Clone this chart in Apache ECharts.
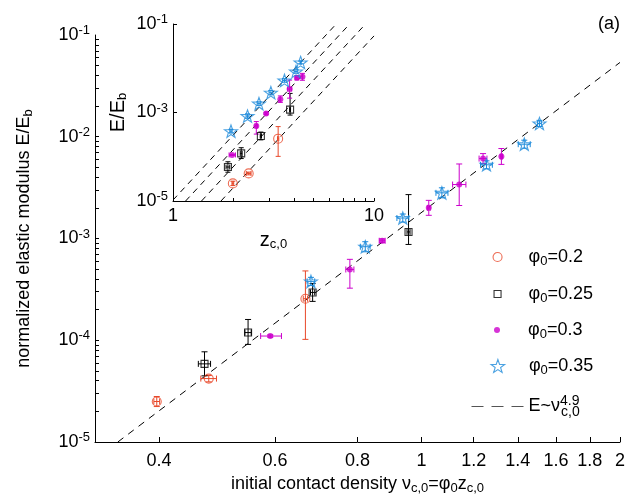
<!DOCTYPE html>
<html>
<head>
<meta charset="utf-8">
<script src="https://cdn.jsdelivr.net/npm/echarts@6/dist/echarts.min.js"></script>
<style>
  html, body { margin: 0; padding: 0; background: #fff; }
  #chart { width: 628px; height: 500px; }
</style>
</head>
<body>
<div id="chart"></div>
<script>
// ---- measured samples: contact density nu, normalized modulus E/Eb, with error ranges ----
const phi = [0.2, 0.25, 0.3, 0.35];

const nu020   = [0.397, 0.476, 0.667];
const E020    = [2.5e-5, 4.2e-5, 2.56e-4];
const nuLo020 = [0.393, 0.463, 0.662];
const nuHi020 = [0.401, 0.489, 0.672];
const ELo020  = [2.23e-5, 3.9e-5, 1.02e-4];
const EHi020  = [2.8e-5, 4.5e-5, 4.8e-4];

const nu025   = [0.469, 0.546, 0.684, 0.956];
const E025    = [5.86e-5, 1.19e-4, 2.95e-4, 1.16e-3];
const nuLo025 = [0.459, 0.540, 0.679, 0.951];
const nuHi025 = [0.479, 0.552, 0.689, 0.961];
const ELo025  = [4.47e-5, 9.1e-5, 2.41e-4, 8.74e-4];
const EHi025  = [7.7e-5, 1.6e-4, 3.61e-4, 2.7e-3];

const nu030   = [0.590, 0.779, 0.872, 1.026, 1.141, 1.24, 1.322];
const E030    = [1.1e-4, 4.96e-4, 9.5e-4, 2.0e-3, 3.39e-3, 6.1e-3, 6.4e-3];
const nuLo030 = [0.5705, 0.768, 0.863, 1.021, 1.115, 1.223, 1.317];
const nuHi030 = [0.6135, 0.790, 0.881, 1.031, 1.168, 1.257, 1.327];
const ELo030  = [1.07e-4, 3.25e-4, 9.1e-4, 1.69e-3, 2.11e-3, 5.45e-3, 5.35e-3];
const EHi030  = [1.13e-4, 6.24e-4, 9.9e-4, 2.37e-3, 5.4e-3, 6.83e-3, 7.66e-3];

const nu035   = [0.680, 0.822, 0.937, 1.074, 1.255, 1.432, 1.51];
const E035    = [3.79e-4, 8.3e-4, 1.59e-3, 2.81e-3, 5.3e-3, 8.45e-3, 1.35e-2];
const nuLo035 = [0.671, 0.808, 0.918, 1.052, 1.229, 1.402, 1.5];
const nuHi035 = [0.689, 0.836, 0.957, 1.097, 1.281, 1.462, 1.52];
const ELo035  = [3.46e-4, 7.4e-4, 1.45e-3, 2.51e-3, 4.84e-3, 7.72e-3, 1.26e-2];
const EHi035  = [4.15e-4, 9.3e-4, 1.74e-3, 3.15e-3, 5.8e-3, 9.25e-3, 1.45e-2];

// power-law fit E = A * nu^4.9
const fitExponent = 4.9;
const fitPrefactor = 1.8e-3;

// tick positions
const xTicksMain = [0.4, 0.6, 0.8, 1, 1.2, 1.4, 1.6, 1.8, 2];
const yTicksMain = [];
[1e-5, 1e-4, 1e-3, 1e-2].forEach(d => { for (let k = 1; k <= 9; k++) yTicksMain.push(d * k); });
yTicksMain.push(1e-1);
const xTicksInset = [1, 2, 3, 4, 5, 6, 7, 8, 9, 10];
const xLabelsInset = [1, 10];
const yTicksInset = [1e-5, 1e-3, 1e-1];

// ---- styling ----
const FONT = '"Liberation Sans", Arial, Helvetica, sans-serif';
const STAR = 'path://M0,-10L2.35,-3.24L9.51,-3.09L3.8,1.24L5.88,8.09L0,4.0L-5.88,8.09L-3.8,1.24L-9.51,-3.09L-2.35,-3.24Z';
const SQUARE = 'path://M0,0L10,0L10,10L0,10Z';

const groups = [
  { key: 'g020', phi: phi[0], nu: nu020, E: E020, nuLo: nuLo020, nuHi: nuHi020, ELo: ELo020, EHi: EHi020,
    color: '#E8482A', symbol: 'circle', size: 9, filled: false, label: 'φ{sub|0}=0.2' },
  { key: 'g025', phi: phi[1], nu: nu025, E: E025, nuLo: nuLo025, nuHi: nuHi025, ELo: ELo025, EHi: EHi025,
    color: '#000000', symbol: SQUARE, size: 7, filled: false, label: 'φ{sub|0}=0.25' },
  { key: 'g030', phi: phi[2], nu: nu030, E: E030, nuLo: nuLo030, nuHi: nuHi030, ELo: ELo030, EHi: EHi030,
    color: '#CC00CC', symbol: 'circle', size: 6, filled: true, label: 'φ{sub|0}=0.3' },
  { key: 'g035', phi: phi[3], nu: nu035, E: E035, nuLo: nuLo035, nuHi: nuHi035, ELo: ELo035, EHi: EHi035,
    color: '#1E8BDB', symbol: STAR, size: 13, filled: false, label: 'φ{sub|0}=0.35' }
];

const subSup = {
  sub: { fontSize: 13, fontFamily: FONT, color: '#000', padding: [9, 0, 0, 0] },
  sup: { fontSize: 13, fontFamily: FONT, color: '#000', padding: [0, 0, 9, 0] },
  supz: { fontSize: 14, fontFamily: FONT, color: '#000', padding: [0, 0, 11, 0], width: 1 },
  subz: { fontSize: 14, fontFamily: FONT, color: '#000', padding: [11, 0, 0, 0] }
};

function errorBars(cap, color) {
  return function (params, api) {
    const x = api.value(0), y = api.value(1);
    const p = api.coord([x, y]);
    const xl = api.coord([api.value(2), y])[0];
    const xh = api.coord([api.value(3), y])[0];
    const yl = api.coord([x, api.value(4)])[1];
    const yh = api.coord([x, api.value(5)])[1];
    const st = { stroke: color, lineWidth: 1, fill: null };
    const seg = (x1, y1, x2, y2) => ({ type: 'line', shape: { x1, y1, x2, y2 }, style: st });
    return {
      type: 'group',
      children: [
        seg(p[0], yl, p[0], yh),
        seg(p[0] - cap, yl, p[0] + cap, yl),
        seg(p[0] - cap, yh, p[0] + cap, yh),
        seg(xl, p[1], xh, p[1]),
        seg(xl, p[1] - cap, xl, p[1] + cap),
        seg(xh, p[1] - cap, xh, p[1] + cap)
      ]
    };
  };
}

function rows(g, scale) {
  return g.nu.map((v, i) => [v / scale, g.E[i], g.nuLo[i] / scale, g.nuHi[i] / scale, g.ELo[i], g.EHi[i]]);
}

function markerStyle(g) {
  return g.filled
    ? { color: g.color, borderWidth: 0 }
    : { color: 'rgba(0,0,0,0)', borderColor: g.color, borderWidth: 1.1 };
}

const series = [];
// main panel
groups.forEach(g => {
  series.push({
    type: 'custom', name: g.key + '_err', xAxisIndex: 0, yAxisIndex: 0, z: 2,
    renderItem: errorBars(3, g.color), data: rows(g, 1), encode: { x: 0, y: 1 }, silent: true
  });
});
groups.forEach(g => {
  series.push({
    type: 'scatter', name: g.key, xAxisIndex: 0, yAxisIndex: 0, z: 3,
    symbol: g.symbol, symbolSize: g.size, symbolKeepAspect: true,
    itemStyle: markerStyle(g), data: g.nu.map((v, i) => [v, g.E[i]])
  });
});
const fitStart = Math.pow(1e-5 / fitPrefactor, 1 / fitExponent);
const fitEnd = 2;
series.push({
  type: 'line', name: 'fit', xAxisIndex: 0, yAxisIndex: 0, z: 1,
  symbol: 'none', lineStyle: { color: '#000', width: 1, type: [7, 6] }, itemStyle: { color: '#000' },
  data: [fitStart, fitEnd].map(v => [v, fitPrefactor * Math.pow(v, fitExponent)])
});

// inset panel: same samples against coordination number z = nu / phi
groups.forEach(g => {
  const logC = Math.log10(fitPrefactor) + fitExponent * Math.log10(g.phi);
  let zLo = Math.pow(10, (-5 - logC) / fitExponent);
  let zHi = Math.pow(10, (-1 - logC) / fitExponent);
  zLo = Math.max(zLo, 1); zHi = Math.min(zHi, 10);
  series.push({
    type: 'line', name: g.key + '_insetfit', xAxisIndex: 1, yAxisIndex: 1, z: 1,
    symbol: 'none', lineStyle: { color: '#000', width: 1, type: [6, 5] },
    data: [zLo, zHi].map(z => [z, Math.pow(10, logC) * Math.pow(z, fitExponent)])
  });
});
groups.forEach(g => {
  series.push({
    type: 'custom', name: g.key + '_inseterr', xAxisIndex: 1, yAxisIndex: 1, z: 2,
    renderItem: errorBars(2.5, g.color), data: rows(g, g.phi), encode: { x: 0, y: 1 }, silent: true
  });
});
groups.forEach(g => {
  series.push({
    type: 'scatter', name: g.key + '_inset', xAxisIndex: 1, yAxisIndex: 1, z: 3,
    symbol: g.symbol, symbolSize: g.size, symbolKeepAspect: true,
    itemStyle: markerStyle(g), data: g.nu.map((v, i) => [v / g.phi, g.E[i]])
  });
});

const expLabel = v => '10{sup|' + Math.round(Math.log10(v)) + '}';
const axisText = { color: '#000', fontFamily: FONT };

// one legend block per row; icon centred at legendIconX, label starting at about legendIconX + 31
const legendIconX = 492;
const legendY = [255, 292, 328, 364, 403];
const legendItemW = 52;
const legends = groups.map((g, i) => ({
  left: legendIconX - g.size / 2, top: legendY[i] - 12, orient: 'horizontal',
  itemWidth: legendItemW, itemHeight: g.size, symbolKeepAspect: true, selectedMode: false,
  data: [{ name: g.key, icon: g.symbol, itemStyle: markerStyle(g) }],
  formatter: () => g.label,
  textStyle: Object.assign({ fontSize: 18, rich: subSup }, axisText)
})).concat([{
  left: legendIconX - legendItemW / 2, top: legendY[4] - 14, orient: 'horizontal',
  itemWidth: legendItemW, itemHeight: 14, selectedMode: false,
  data: [{ name: 'fit', itemStyle: { opacity: 0 }, lineStyle: { type: [12, 8], color: '#555', width: 1 } }],
  formatter: () => 'E~ν{supz|4.9}{subz|c,0}',
  textStyle: Object.assign({ fontSize: 18, rich: subSup }, axisText)
}]);

const option = {
  animation: false,
  backgroundColor: '#fff',
  grid: [
    { left: 95, right: 4, top: 35, bottom: 55 },
    { left: 173, width: 201, top: 24, height: 177, show: false }
  ],
  legend: legends,
  graphic: [{ type: 'text', left: 598, top: 15, style: { text: '(a)', fontSize: 18, fontFamily: FONT, fill: '#000' } }],
  xAxis: [
    {
      type: 'log', gridIndex: 0, min: 0.32, max: 2,
      name: 'initial contact density ν{sub|c,0}=φ{sub|0}z{sub|c,0}', nameLocation: 'middle', nameGap: 31,
      nameTextStyle: Object.assign({ fontSize: 18, rich: subSup }, axisText),
      axisLine: { lineStyle: { color: '#000', width: 1 } },
      axisTick: { inside: true, length: 5, customValues: xTicksMain, lineStyle: { color: '#000' } },
      axisLabel: Object.assign({ fontSize: 18, margin: 10, customValues: xTicksMain, formatter: v => String(+v.toFixed(2)) }, axisText),
      splitLine: { show: false }, minorTick: { show: false }
    },
    {
      type: 'log', gridIndex: 1, min: 1, max: 10,
      name: 'z{sub|c,0}', nameLocation: 'middle', nameGap: 28,
      nameTextStyle: Object.assign({ fontSize: 20, rich: subSup }, axisText),
      axisLine: { lineStyle: { color: '#000', width: 1 } },
      axisTick: { inside: true, length: 3, customValues: xTicksInset, lineStyle: { color: '#000' } },
      axisLabel: Object.assign({ fontSize: 18, margin: 6, customValues: xLabelsInset, formatter: v => String(Math.round(v)) }, axisText),
      splitLine: { show: false }
    }
  ],
  yAxis: [
    {
      type: 'log', gridIndex: 0, min: 1e-5, max: 1e-1, position: 'left',
      name: 'normalized elastic modulus E/E{sub|b}', nameLocation: 'middle', nameGap: 60,
      nameTextStyle: Object.assign({ fontSize: 18, rich: subSup }, axisText),
      axisLine: { show: true, lineStyle: { color: '#000', width: 1 } },
      axisTick: { show: true, inside: true, length: 4, customValues: yTicksMain, lineStyle: { color: '#000' } },
      axisLabel: Object.assign({ fontSize: 18, margin: 5, formatter: expLabel, rich: subSup }, axisText),
      splitLine: { show: false }
    },
    {
      type: 'log', gridIndex: 1, min: 1e-5, max: 1e-1, position: 'left',
      name: 'E/E{sub|b}', nameLocation: 'middle', nameGap: 44,
      nameTextStyle: Object.assign({ fontSize: 20, rich: subSup }, axisText),
      axisLine: { show: true, lineStyle: { color: '#000', width: 1 } },
      axisTick: { show: true, inside: true, length: 4, customValues: yTicksInset, lineStyle: { color: '#000' } },
      axisLabel: Object.assign({ fontSize: 18, margin: 5, customValues: yTicksInset, formatter: expLabel, rich: subSup }, axisText),
      splitLine: { show: false }
    }
  ],
  series
};

const chart = echarts.init(document.getElementById('chart'), null, { renderer: 'canvas' });
chart.setOption(option);
</script>
</body>
</html>
